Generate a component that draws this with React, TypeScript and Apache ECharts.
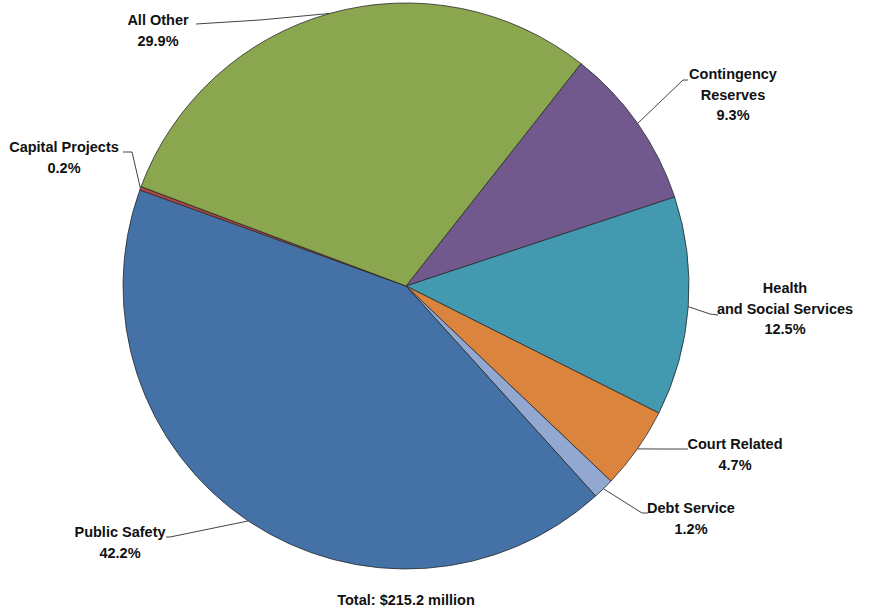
import React, { useEffect, useRef } from "react";
import * as echarts from "echarts";

const categories = [
  "Contingency\nReserves",
  "Health\nand Social Services",
  "Court Related",
  "Debt Service",
  "Public Safety",
  "Capital Projects",
  "All Other",
];
const shares = [9.3, 12.5, 4.7, 1.2, 42.2, 0.2, 29.9];
const colors = ["#71598E", "#4399B0", "#DB843E", "#93A8D0", "#4572A6", "#AA4643", "#8AA64F"];
const totalLabel = "Total: $215.2 million";

// label placement: text top-center and leader line bend/end points
const labelPlacement: Record<string, { x: number; y: number; line: number[][] }> = {
  "Contingency\nReserves": { x: 733, y: 64, line: [[683, 80], [688, 80]] },
  "Health\nand Social Services": { x: 785, y: 278, line: [[710, 314], [718, 315]] },
  "Court Related": { x: 735, y: 434, line: [[660, 449], [688, 449]] },
  "Debt Service": { x: 691, y: 498, line: [[642, 513], [648, 513]] },
  "Public Safety": { x: 120, y: 522, line: [[170, 537], [166, 537]] },
  "Capital Projects": { x: 64, y: 137, line: [[132, 152], [123, 152]] },
  "All Other": { x: 158, y: 10, line: [[260, 20], [196, 24]] },
};

const FONT = "'Liberation Sans', Arial, sans-serif";

export default function App() {
  const ref = useRef<HTMLDivElement>(null);
  useEffect(() => {
    document.body.style.margin = "0";
    const chart = echarts.init(ref.current!, null, { renderer: "svg" });
    chart.setOption({
      animation: false,
      backgroundColor: "#ffffff",
      color: colors,
      graphic: [
        {
          type: "text",
          x: 406,
          y: 600,
          style: {
            text: totalLabel,
            textAlign: "center",
            textVerticalAlign: "middle",
            fontFamily: FONT,
            fontSize: 14.5,
            fontWeight: "bold",
            fill: "#111",
          },
        },
      ],
      series: [
        {
          type: "pie",
          center: [406, 286],
          radius: 283,
          startAngle: 51.8,
          clockwise: true,
          avoidLabelOverlap: false,
          itemStyle: { borderColor: "#2a2a2a", borderWidth: 0.8 },
          label: {
            show: true,
            position: "outside",
            fontFamily: FONT,
            fontSize: 14.5,
            fontWeight: "bold",
            lineHeight: 20.5,
            color: "#111",
            align: "center",
            formatter: (p: any) => `${p.name}\n${Number(p.value).toFixed(1)}%`,
          },
          labelLine: {
            show: true,
            lineStyle: { color: "#444", width: 1 },
          },
          labelLayout: (params: any) => {
            const name = categories[params.dataIndex];
            const pl = labelPlacement[name];
            const p0 = params.labelLinePoints ? params.labelLinePoints[0] : pl.line[0];
            return {
              x: pl.x,
              y: pl.y,
              align: "center",
              verticalAlign: "top",
              labelLinePoints: [p0, pl.line[0], pl.line[1]],
            };
          },
          emphasis: { disabled: true },
          data: categories.map((c, i) => ({ name: c, value: shares[i] })),
        },
      ],
    });
    return () => chart.dispose();
  }, []);
  return <div ref={ref} style={{ width: 869, height: 611 }} />;
}
